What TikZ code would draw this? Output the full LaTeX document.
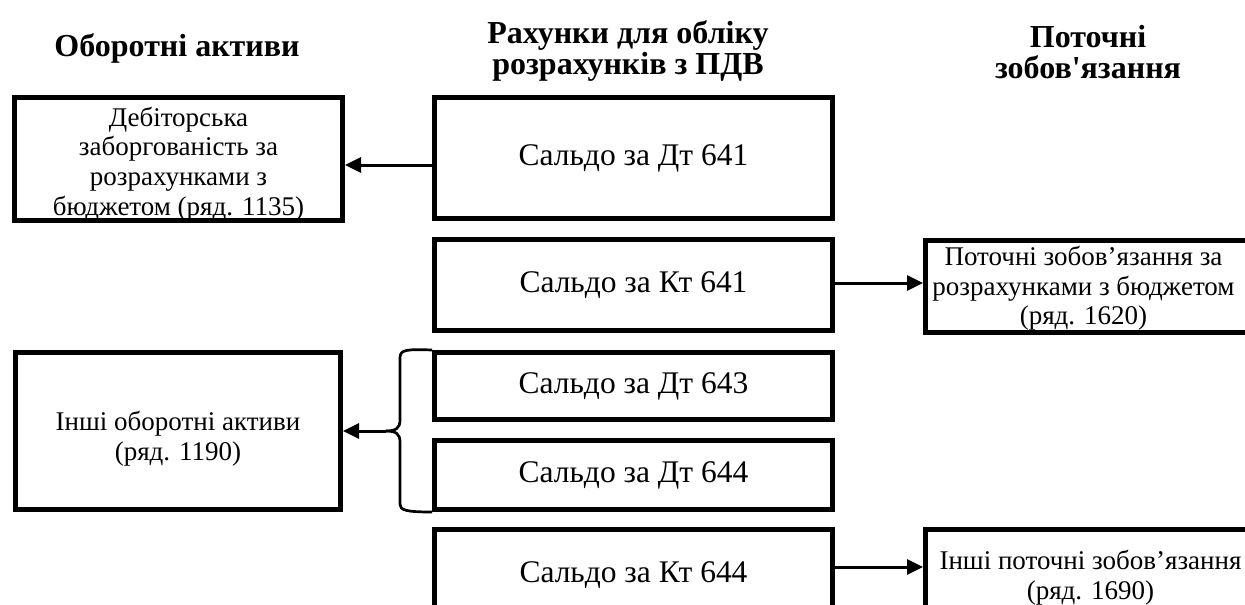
\documentclass[tikz,border=0pt]{standalone}
\usepackage{fontspec}
\newfontfamily\tnr{Liberation Serif}
\usetikzlibrary{arrows.meta}
\begin{document}
\begin{tikzpicture}[x=1pt,y=-1pt,
  every node/.style={font=\tnr},
  smallfont/.style={font=\tnr\fontsize{27}{29.7}\selectfont},
  box/.style={draw, line width=5pt, inner sep=0pt, align=center, smallfont},
  bigbox/.style={box, font=\tnr\fontsize{31.5}{34}\selectfont},
  lbl/.style={align=center, inner sep=0pt, smallfont},
  title/.style={align=center, inner sep=0pt, font=\tnr\bfseries\fontsize{32}{31.5}\selectfont},
  conn/.style={line width=3pt, -{Triangle[length=16pt,width=15pt]}},
  bracestyle/.style={line width=2.7pt}
]
\useasboundingbox (0,0) rectangle (1245,605);
\clip (0,0) rectangle (1245,605);

% titles
\node[title] (t1) at (177,48) {Оборотні активи};
\node[title] (t2) at (628,51) {Рахунки для обліку\\розрахунків з ПДВ};
\node[title] (t3) at (1088,52) {Поточні\\зобов'язання};

% left column
\node[box, minimum width=328pt, minimum height=123pt,
  label={[lbl, yshift=-5pt]center:{Дебіторська\\заборгованість за\\розрахунками з\\бюджетом (ряд. 1135)}}]
  (deb) at (178.5,159) {};
\node[box, minimum width=325pt, minimum height=157pt,
  label={[lbl, yshift=-8pt]center:{Інші оборотні активи\\(ряд. 1190)}}]
  (inf) at (178,431) {};

% middle column
\node[bigbox, minimum width=398pt, minimum height=121pt] (d641) at (633.5,158) {Сальдо за Дт 641};
\node[bigbox, minimum width=398pt, minimum height=91pt] (k641) at (633.5,285) {Сальдо за Кт 641};
\node[bigbox, minimum width=398pt, minimum height=67pt] (d643) at (633.5,386) {Сальдо за Дт 643};
\node[bigbox, minimum width=398pt, minimum height=69pt] (d644) at (633.5,475) {Сальдо за Дт 644};
\node[bigbox, minimum width=398pt, minimum height=91pt] (k644) at (633.5,575) {Сальдо за Кт 644};

% right column
\node[box, minimum width=330pt, minimum height=92pt,
  label={[lbl, xshift=-7pt, yshift=-2pt]center:{Поточні зобов’язання за\\розрахунками з бюджетом\\(ряд. 1620)}}]
  (pz) at (1090.5,286.5) {};
\node[box, minimum width=330pt, minimum height=91pt,
  label={[lbl, yshift=-3pt]center:{Інші поточні зобов’язання\\(ряд. 1690)}}]
  (ip) at (1090.5,575) {};

% connectors
\draw[conn] ([yshift=-7pt]d641.west) -- ([yshift=-7pt]d641.west -| deb.east);
\draw[conn] ([yshift=2pt]k641.east) -- ([yshift=2pt]k641.east -| pz.west);
\draw[conn] ([yshift=8pt]k644.east) -- ([yshift=8pt]k644.east -| ip.west);

% brace
\coordinate (bt) at (386,431);
\draw[bracestyle] (d643.north west) .. controls (405,349) and (400,350) .. (400,358)
  -- (400,420) .. controls (400,428) and (396,431) .. (bt);
\draw[bracestyle] (bt) .. controls (396,431) and (400,434) .. (400,442)
  -- (400,504) .. controls (400,510) and (405,512) .. (d644.south west);
\draw[conn] (bt) -- (bt -| inf.east);
\end{tikzpicture}
\end{document}
